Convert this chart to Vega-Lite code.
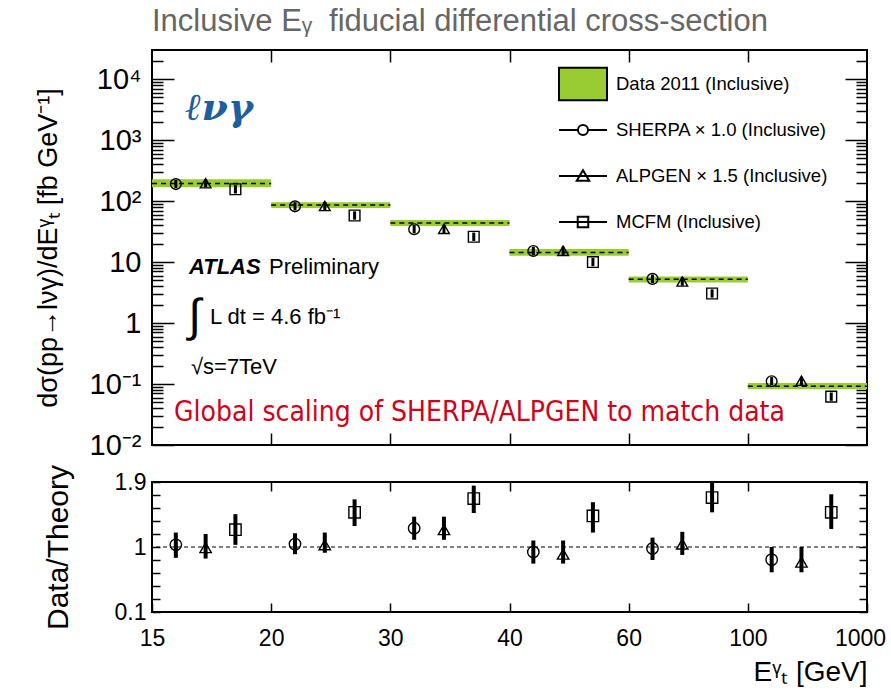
{
  "$schema": "https://vega.github.io/schema/vega-lite/v6.json",
  "background": "white",
  "padding": {"left": 33, "top": 4, "right": 0, "bottom": 2},
  "bounds": "flush",
  "spacing": 37,
  "config": {
    "view": {"stroke": "black", "strokeWidth": 2},
    "font": "Liberation Sans",
    "axis": {"domain": false, "grid": false, "labelFont": "Liberation Sans", "titleFont": "Liberation Sans", "labelColor": "black", "titleColor": "black", "tickColor": "black", "titleFontWeight": "normal", "labelFlush": false, "labelOverlap": false, "labelBound": false}
  },
  "resolve": {"scale": {"shape": "independent", "fill": "independent", "stroke": "independent"}, "legend": {"shape": "independent", "fill": "independent", "stroke": "independent"}},
  "datasets": {
    "bins": [
      {"edge_lo": 0, "edge_hi": 1, "range": "15-20", "data": 195, "lo": 168, "hi": 227},
      {"edge_lo": 1, "edge_hi": 2, "range": "20-30", "data": 86, "lo": 77, "hi": 96},
      {"edge_lo": 2, "edge_hi": 3, "range": "30-40", "data": 43.7, "lo": 39, "hi": 49},
      {"edge_lo": 3, "edge_hi": 4, "range": "40-60", "data": 14.4, "lo": 12.7, "hi": 16.3},
      {"edge_lo": 4, "edge_hi": 5, "range": "60-100", "data": 5.2, "lo": 4.6, "hi": 5.8},
      {"edge_lo": 5, "edge_hi": 6, "range": "100-1000", "data": 0.092, "lo": 0.082, "hi": 0.104}
    ],
    "theory": [
      {"series": "SHERPA × 1.0 (Inclusive)", "bin_x": 0.2, "value": 190, "tlo": 162, "thi": 222, "ratio": 1.03, "rlo": 0.85, "rhi": 1.2},
      {"series": "SHERPA × 1.0 (Inclusive)", "bin_x": 1.2, "value": 82, "tlo": 70, "thi": 96, "ratio": 1.04, "rlo": 0.9, "rhi": 1.19},
      {"series": "SHERPA × 1.0 (Inclusive)", "bin_x": 2.2, "value": 34.5, "tlo": 29.5, "thi": 40.4, "ratio": 1.26, "rlo": 1.1, "rhi": 1.42},
      {"series": "SHERPA × 1.0 (Inclusive)", "bin_x": 3.2, "value": 15.2, "tlo": 13.0, "thi": 17.8, "ratio": 0.93, "rlo": 0.77, "rhi": 1.09},
      {"series": "SHERPA × 1.0 (Inclusive)", "bin_x": 4.2, "value": 5.3, "tlo": 4.53, "thi": 6.2, "ratio": 0.98, "rlo": 0.82, "rhi": 1.13},
      {"series": "SHERPA × 1.0 (Inclusive)", "bin_x": 5.2, "value": 0.111, "tlo": 0.095, "thi": 0.13, "ratio": 0.825, "rlo": 0.65, "rhi": 1.0},
      {"series": "ALPGEN × 1.5 (Inclusive)", "bin_x": 0.45, "value": 196, "tlo": 167.5, "thi": 229, "ratio": 0.99, "rlo": 0.84, "rhi": 1.18},
      {"series": "ALPGEN × 1.5 (Inclusive)", "bin_x": 1.45, "value": 83, "tlo": 71, "thi": 97, "ratio": 1.03, "rlo": 0.92, "rhi": 1.2},
      {"series": "ALPGEN × 1.5 (Inclusive)", "bin_x": 2.45, "value": 35, "tlo": 29.9, "thi": 41, "ratio": 1.24, "rlo": 1.1, "rhi": 1.42},
      {"series": "ALPGEN × 1.5 (Inclusive)", "bin_x": 3.45, "value": 15.3, "tlo": 13.1, "thi": 17.9, "ratio": 0.9, "rlo": 0.77, "rhi": 1.09},
      {"series": "ALPGEN × 1.5 (Inclusive)", "bin_x": 4.45, "value": 4.8, "tlo": 4.1, "thi": 5.6, "ratio": 1.04, "rlo": 0.89, "rhi": 1.21},
      {"series": "ALPGEN × 1.5 (Inclusive)", "bin_x": 5.45, "value": 0.113, "tlo": 0.0966, "thi": 0.132, "ratio": 0.79, "rlo": 0.65, "rhi": 1.0},
      {"series": "MCFM (Inclusive)", "bin_x": 0.7, "value": 156, "tlo": 133, "thi": 182.5, "ratio": 1.24, "rlo": 1.03, "rhi": 1.455},
      {"series": "MCFM (Inclusive)", "bin_x": 1.7, "value": 58, "tlo": 49.6, "thi": 67.9, "ratio": 1.48, "rlo": 1.29, "rhi": 1.66},
      {"series": "MCFM (Inclusive)", "bin_x": 2.7, "value": 26, "tlo": 22.2, "thi": 30.4, "ratio": 1.67, "rlo": 1.47, "rhi": 1.85},
      {"series": "MCFM (Inclusive)", "bin_x": 3.7, "value": 10, "tlo": 8.55, "thi": 11.7, "ratio": 1.43, "rlo": 1.2, "rhi": 1.62},
      {"series": "MCFM (Inclusive)", "bin_x": 4.7, "value": 3.05, "tlo": 2.61, "thi": 3.57, "ratio": 1.685, "rlo": 1.48, "rhi": 1.9},
      {"series": "MCFM (Inclusive)", "bin_x": 5.7, "value": 0.062, "tlo": 0.053, "thi": 0.0725, "ratio": 1.48, "rlo": 1.25, "rhi": 1.73}
    ]
  },
  "vconcat": [
    {
      "width": 715,
      "height": 395,
      "title": {"text": "Inclusive Eᵧ\u00a0 fiducial differential cross-section", "anchor": "start", "frame": "group", "fontSize": 31, "fontWeight": "normal", "color": "#666666", "font": "Liberation Sans", "offset": 9},
      "resolve": {"scale": {"shape": "independent", "fill": "independent", "stroke": "independent"}, "legend": {"shape": "independent", "fill": "independent", "stroke": "independent"}},
      "layer": [
        {
          "data": {"name": "bins"},
          "mark": {"type": "rect", "color": "#99cc33"},
          "encoding": {
            "x": {"field": "edge_lo", "type": "quantitative", "scale": {"domain": [0, 6], "nice": false, "zero": false},
                  "axis": {"orient": "bottom", "values": [1, 2, 3, 4, 5], "labels": false, "tickSize": -12, "tickWidth": 1.5, "title": null}},
            "x2": {"field": "edge_hi"},
            "y": {"field": "lo", "type": "quantitative", "scale": {"type": "log", "domain": [0.01, 30000], "nice": false},
                  "axis": {"orient": "left",
                           "values": [0.01,0.02,0.03,0.04,0.05,0.06,0.07,0.08,0.09,0.1,0.2,0.3,0.4,0.5,0.6,0.7,0.8,0.9,1,2,3,4,5,6,7,8,9,10,20,30,40,50,60,70,80,90,100,200,300,400,500,600,700,800,900,1000,2000,3000,4000,5000,6000,7000,8000,9000,10000,20000],
                           "labelExpr": "datum.value == 0.01 ? '10⁻²' : datum.value == 0.1 ? '10⁻¹' : datum.value == 1 ? '1' : datum.value == 10 ? '10' : datum.value == 100 ? '10²' : datum.value == 1000 ? '10³' : datum.value == 10000 ? '10⁴' : ''",
                           "tickSize": {"condition": {"test": "abs(log(datum.value)/LN10 - round(log(datum.value)/LN10)) < 0.001", "value": -22}, "value": -11},
                           "tickWidth": 1.5,
                           "labelPadding": 33, "labelFontSize": 29, "labelBaseline": "middle",
                           "title": "dσ(pp→lνγ)/dEᵞₜ [fb GeV⁻¹]", "titleFontSize": 27, "titlePadding": 27}},
            "y2": {"field": "hi"}
          }
        },
        {
          "data": {"name": "bins"},
          "mark": {"type": "rule", "strokeDash": [5, 4], "strokeWidth": 1.5, "color": "black"},
          "encoding": {
            "x": {"field": "edge_lo", "type": "quantitative",
                  "axis": {"orient": "top", "values": [1, 2, 3, 4, 5], "labels": false, "tickSize": -12, "tickWidth": 1.5, "title": null}},
            "x2": {"field": "edge_hi"},
            "y": {"field": "data", "type": "quantitative",
                  "axis": {"orient": "right", "labels": false, "title": null,
                           "values": [0.01,0.02,0.03,0.04,0.05,0.06,0.07,0.08,0.09,0.1,0.2,0.3,0.4,0.5,0.6,0.7,0.8,0.9,1,2,3,4,5,6,7,8,9,10,20,30,40,50,60,70,80,90,100,200,300,400,500,600,700,800,900,1000,2000,3000,4000,5000,6000,7000,8000,9000,10000,20000],
                           "tickSize": {"condition": {"test": "abs(log(datum.value)/LN10 - round(log(datum.value)/LN10)) < 0.001", "value": -22}, "value": -11},
                           "tickWidth": 1.5}}
          }
        },
        {
          "data": {"name": "theory"},
          "mark": {"type": "rule", "strokeWidth": 3, "color": "black"},
          "encoding": {
            "x": {"field": "bin_x", "type": "quantitative", "axis": null},
            "y": {"field": "tlo", "type": "quantitative", "axis": null},
            "y2": {"field": "thi"}
          }
        },
        {
          "data": {"name": "theory"},
          "mark": {"type": "point", "filled": false, "strokeWidth": 1.4, "color": "black", "size": 115, "opacity": 1},
          "encoding": {
            "x": {"field": "bin_x", "type": "quantitative", "axis": null},
            "y": {"field": "value", "type": "quantitative", "axis": null},
            "shape": {"field": "series", "type": "nominal",
                      "scale": {"domain": ["SHERPA × 1.0 (Inclusive)", "ALPGEN × 1.5 (Inclusive)", "MCFM (Inclusive)"], "range": ["circle", "triangle-up", "square"]},
                      "legend": null}
          }
        },
        {
          "data": {"name": "theory"},
          "mark": {"type": "point", "strokeWidth": 1.8, "size": 115, "opacity": 0},
          "encoding": {
            "x": {"field": "bin_x", "type": "quantitative", "axis": null},
            "y": {"field": "value", "type": "quantitative", "axis": null},
            "shape": {"field": "series", "type": "nominal",
                      "scale": {"domain": ["Data 2011 (Inclusive)", "SHERPA × 1.0 (Inclusive)", "ALPGEN × 1.5 (Inclusive)", "MCFM (Inclusive)"],
                                "range": ["M-1,-0.68H1V0.68H-1Z", "M0,-0.68M0,0.68M-1,0H-0.21M0.21,0H1M0.21,0A0.21,0.21,0,1,1,-0.21,0A0.21,0.21,0,1,1,0.21,0Z", "M0,-0.68M0,0.68M-1,0H1M0,-0.24L0.26,0.2H-0.26Z", "M0,-0.68M0,0.68M-1,0H1M-0.22,-0.22H0.22V0.22H-0.22Z"]},
                      "legend": {"orient": "none", "legendX": 406, "legendY": 9, "title": null, "labelFontSize": 18.5, "labelFont": "Liberation Sans", "labelColor": "black", "symbolSize": 2304, "symbolOpacity": 1, "symbolStrokeWidth": 2, "labelOffset": 8, "rowPadding": 0, "labelLimit": 400}},
            "fill": {"field": "series", "type": "nominal",
                     "scale": {"domain": ["Data 2011 (Inclusive)", "SHERPA × 1.0 (Inclusive)", "ALPGEN × 1.5 (Inclusive)", "MCFM (Inclusive)"],
                               "range": ["#99cc33", "transparent", "transparent", "transparent"]},
                     "legend": {"orient": "none", "legendX": 406, "legendY": 9, "title": null, "labelFontSize": 18.5, "labelFont": "Liberation Sans", "labelColor": "black", "symbolSize": 2304, "symbolOpacity": 1, "symbolStrokeWidth": 2, "labelOffset": 8, "rowPadding": 0, "labelLimit": 400}},
            "stroke": {"field": "series", "type": "nominal",
                     "scale": {"domain": ["Data 2011 (Inclusive)", "SHERPA × 1.0 (Inclusive)", "ALPGEN × 1.5 (Inclusive)", "MCFM (Inclusive)"],
                               "range": ["black", "black", "black", "black"]},
                     "legend": {"orient": "none", "legendX": 406, "legendY": 9, "title": null, "labelFontSize": 18.5, "labelFont": "Liberation Sans", "labelColor": "black", "symbolSize": 2304, "symbolOpacity": 1, "symbolStrokeWidth": 2, "labelOffset": 8, "rowPadding": 0, "labelLimit": 400}}
          }
        },
        {
          "data": {"values": [{"t": "ℓνγ", "bx": 0.28, "val": 2140}]},
          "mark": {"type": "text", "font": "DejaVu Serif", "fontStyle": "italic", "fontWeight": "bold", "fontSize": 38, "color": "#1f5e9e", "align": "left", "baseline": "alphabetic"},
          "encoding": {"x": {"field": "bx", "type": "quantitative", "axis": null}, "y": {"field": "val", "type": "quantitative", "axis": null}, "text": {"field": "t"}}
        },
        {
          "data": {"values": [{"t": "ATLAS", "bx": 0.31, "val": 6.37}]},
          "mark": {"type": "text", "font": "Liberation Sans", "fontStyle": "italic", "fontWeight": "bold", "fontSize": 22, "color": "black", "align": "left", "baseline": "alphabetic"},
          "encoding": {"x": {"field": "bx", "type": "quantitative", "axis": null}, "y": {"field": "val", "type": "quantitative", "axis": null}, "text": {"field": "t"}}
        },
        {
          "data": {"values": [{"t": "Preliminary", "bx": 0.982, "val": 6.37}, {"t": "L dt = 4.6 fb⁻¹", "bx": 0.487, "val": 0.965}, {"t": "√s=7TeV", "bx": 0.327, "val": 0.146}]},
          "mark": {"type": "text", "font": "Liberation Sans", "fontSize": 22, "color": "black", "align": "left", "baseline": "alphabetic"},
          "encoding": {"x": {"field": "bx", "type": "quantitative", "axis": null}, "y": {"field": "val", "type": "quantitative", "axis": null}, "text": {"field": "t"}}
        },
        {
          "data": {"values": [{"t": "∫", "bx": 0.36, "val": 1.26}]},
          "mark": {"type": "text", "font": "Liberation Sans", "fontSize": 46, "color": "black", "align": "center", "baseline": "middle"},
          "encoding": {"x": {"field": "bx", "type": "quantitative", "axis": null}, "y": {"field": "val", "type": "quantitative", "axis": null}, "text": {"field": "t"}}
        },
        {
          "data": {"values": [{"t": "Global scaling of SHERPA/ALPGEN to match data", "bx": 0.185, "val": 0.025}]},
          "mark": {"type": "text", "font": "DejaVu Sans Condensed", "fontSize": 28, "color": "#d0021b", "align": "left", "baseline": "alphabetic"},
          "encoding": {"x": {"field": "bx", "type": "quantitative", "axis": null}, "y": {"field": "val", "type": "quantitative", "axis": null}, "text": {"field": "t"}}
        }
      ]
    },
    {
      "width": 715,
      "height": 130,
      "layer": [
        {
          "data": {"values": [{"reference": 1}]},
          "mark": {"type": "rule", "strokeDash": [4, 3], "strokeWidth": 1, "color": "black"},
          "encoding": {"y": {"field": "reference", "type": "quantitative", "axis": null}}
        },
        {
          "data": {"name": "theory"},
          "mark": {"type": "rule", "strokeWidth": 4, "color": "black"},
          "encoding": {
            "x": {"field": "bin_x", "type": "quantitative", "scale": {"domain": [0, 6], "nice": false, "zero": false},
                  "axis": {"orient": "bottom", "values": [0, 1, 2, 3, 4, 5, 6], "labelExpr": "['15','20','30','40','60','100','1000'][datum.value]",
                           "labelOffset": {"condition": {"test": "datum.value == 6", "value": -7}, "value": 0},
                           "tickSize": -9, "tickWidth": 1.5, "labelPadding": 24, "labelFontSize": 23, "title": "Eᵞₜ [GeV]", "titleFontSize": 28, "titleAnchor": "end", "titleAlign": "right", "titlePadding": 8}},
            "y": {"field": "rlo", "type": "quantitative", "scale": {"domain": [0.1, 1.9], "nice": false, "zero": false},
                  "axis": {"orient": "left", "values": [0.1, 0.28, 0.46, 0.64, 0.82, 1, 1.18, 1.36, 1.54, 1.72, 1.9],
                           "labelExpr": "abs(datum.value - 1) < 0.001 ? '1' : abs(datum.value - 0.1) < 0.001 ? '0.1' : abs(datum.value - 1.9) < 0.001 ? '1.9' : ''",
                           "tickSize": -8, "tickWidth": 1.5, "labelPadding": 14, "labelFontSize": 23, "labelBaseline": "middle",
                           "title": "Data/Theory", "titleFontSize": 30, "titlePadding": 41}},
            "y2": {"field": "rhi"}
          }
        },
        {
          "data": {"name": "theory"},
          "mark": {"type": "point", "filled": false, "strokeWidth": 1.4, "color": "black", "size": 130, "opacity": 1},
          "encoding": {
            "x": {"field": "bin_x", "type": "quantitative",
                  "axis": {"orient": "top", "values": [1, 2, 3, 4, 5], "labels": false, "tickSize": -9, "tickWidth": 1.5, "title": null}},
            "y": {"field": "ratio", "type": "quantitative",
                  "axis": {"orient": "right", "values": [0.1, 0.28, 0.46, 0.64, 0.82, 1, 1.18, 1.36, 1.54, 1.72, 1.9], "labels": false, "tickSize": -8, "tickWidth": 1.5, "title": null}},
            "shape": {"field": "series", "type": "nominal",
                      "scale": {"domain": ["SHERPA × 1.0 (Inclusive)", "ALPGEN × 1.5 (Inclusive)", "MCFM (Inclusive)"], "range": ["circle", "triangle-up", "square"]},
                      "legend": null}
          }
        }
      ]
    }
  ]
}
